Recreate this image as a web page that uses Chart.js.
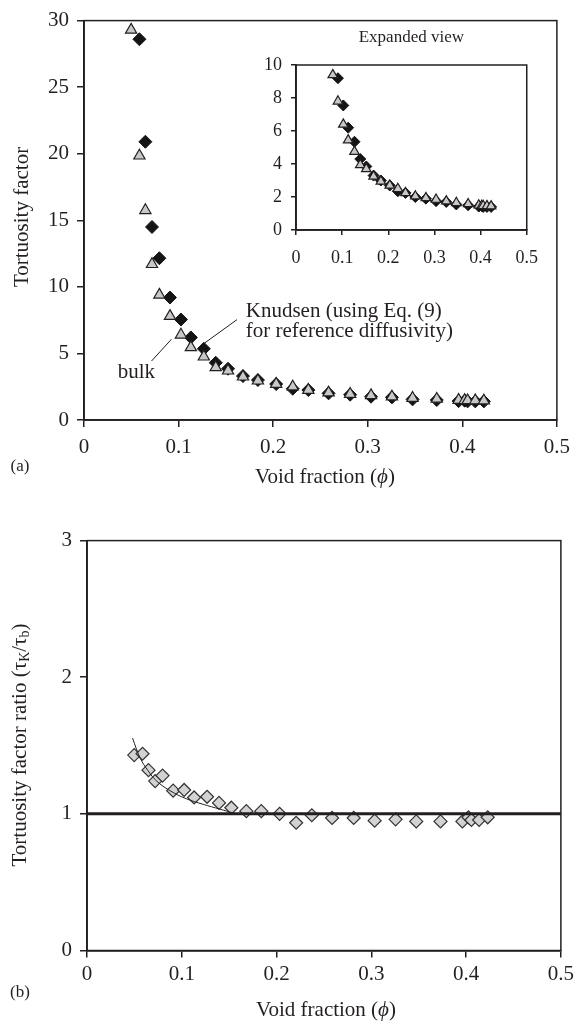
<!DOCTYPE html>
<html>
<head>
<meta charset="utf-8">
<script src="https://cdn.jsdelivr.net/npm/chart.js@4.4.0/dist/chart.umd.min.js"></script>
<style>
  html, body { margin: 0; padding: 0; background: #fff; }
  body { width: 578px; height: 1026px; position: relative; overflow: hidden; }
  .panel { position: absolute; }
</style>
</head>
<body>
<div class="panel" style="left:0;top:0"><canvas id="mainChart" width="578" height="500"></canvas></div>
<div class="panel" style="left:240px;top:20px"><canvas id="insetChart" width="310" height="265"></canvas></div>
<div class="panel" style="left:0;top:520px"><canvas id="ratioChart" width="578" height="506"></canvas></div>

<script>
// ------------ data ------------
const voidFraction = [0.0498, 0.0586, 0.0649, 0.0719, 0.0797, 0.0909, 0.1025, 0.1130, 0.1267, 0.1393,
                      0.1523, 0.1681, 0.1839, 0.2032, 0.2207, 0.2372, 0.2586, 0.2814, 0.3035, 0.3256,
                      0.3474, 0.3730, 0.3961, 0.4025, 0.4056, 0.4137, 0.4228];
const tauBulk = [29.3, 19.85, 15.75, 11.7, 9.4, 7.8, 6.4, 5.45, 4.75, 3.95,
                 3.7, 3.25, 2.95, 2.7, 2.5, 2.25, 2.05, 1.95, 1.85, 1.75,
                 1.65, 1.58, 1.5, 1.48, 1.47, 1.46, 1.45];
// first Knudsen point lies above the 30 limit, so it is not shown
const tauKnudsen = [null, 28.6, 20.9, 14.5, 12.15, 9.2, 7.55, 6.2, 5.35, 4.3,
                    3.85, 3.3, 3.0, 2.7, 2.35, 2.25, 2.0, 1.9, 1.75, 1.7,
                    1.55, 1.5, 1.42, 1.45, 1.4, 1.4, 1.4];
const tauRatio = [1.43, 1.44, 1.32, 1.24, 1.28, 1.17, 1.175, 1.12, 1.125, 1.08,
                  1.045, 1.02, 1.02, 1.0, 0.935, 0.99, 0.97, 0.97, 0.95, 0.96,
                  0.945, 0.945, 0.945, 0.975, 0.955, 0.955, 0.975];
// trend curve in panel (b)
const fitX = [0.048, 0.056, 0.0645, 0.0735, 0.0875, 0.105, 0.1225, 0.14, 0.155];
const fitY = [1.555, 1.41, 1.315, 1.24, 1.17, 1.11, 1.07, 1.035, 1.005];
// reference line at ratio = 1
const unityX = [0, 0.5];
const unityY = [1, 1];

const xTicks = [0, 0.5, 0.1];      // min, max, step
const mainYTicks = [0, 30, 5];
const insetYTicks = [0, 10, 2];
const ratioYTicks = [0, 3, 1];

// ------------ helpers ------------
const SERIF = '"Liberation Serif", "Times New Roman", serif';
const INK = '#231f20';

function pts(xs, ys) {
  return xs.map((x, i) => ({ x: x, y: ys[i] }));
}

function font(size, style) {
  return (style || '') + ' ' + size + 'px ' + SERIF;
}

// draws a line of text made of runs (for italics and subscripts)
function richText(ctx, runs, x, y, rot, align) {
  ctx.save();
  ctx.translate(x, y);
  if (rot) ctx.rotate(rot);
  ctx.textBaseline = 'middle';
  ctx.textAlign = 'left';
  ctx.fillStyle = INK;
  let w = 0;
  runs.forEach(r => { ctx.font = r.font; w += ctx.measureText(r.t).width; });
  let cx = align === 'left' ? 0 : -w / 2;
  runs.forEach(r => {
    ctx.font = r.font;
    ctx.fillText(r.t, cx, r.dy || 0);
    cx += ctx.measureText(r.t).width;
  });
  ctx.restore();
}

function axis(t, size, pad, tick, fitSize, isX) {
  return {
    type: 'linear',
    min: t[0],
    max: t[1],
    ticks: {
      stepSize: t[2],
      autoSkip: false,
      maxRotation: 0,
      padding: pad,
      color: INK,
      font: { family: SERIF, size: size }
    },
    grid: { drawOnChartArea: false, tickLength: tick, color: INK, lineWidth: 1.5 },
    border: { color: INK, width: 1.8 },
    afterFit: isX ? (s => { s.height = fitSize; }) : (s => { s.width = fitSize; })
  };
}

// box around the plot area
const frame = {
  id: 'frame',
  beforeDatasetsDraw(chart) {
    const a = chart.chartArea;
    const ctx = chart.ctx;
    ctx.save();
    ctx.strokeStyle = INK;
    ctx.lineWidth = 1.5;
    ctx.strokeRect(a.left, a.top, a.right - a.left, a.bottom - a.top);
    ctx.restore();
  }
};

const baseOptions = {
  responsive: false,
  animation: false,
  events: [],
  plugins: { legend: { display: false }, tooltip: { enabled: false } }
};

// ------------ (a) main panel ------------
const mainNotes = {
  id: 'mainNotes',
  afterDraw(chart) {
    const ctx = chart.ctx;
    const sx = chart.scales.x, sy = chart.scales.y;
    const px = v => sx.getPixelForValue(v);
    const py = v => sy.getPixelForValue(v);

    richText(ctx, [{ t: 'Tortuosity factor', font: font(21) }], 22, 217, -Math.PI / 2);
    richText(ctx, [
      { t: 'Void fraction (', font: font(21) },
      { t: '\u03D5', font: font(21, 'italic') },
      { t: ')', font: font(21) }
    ], 325, 477);
    richText(ctx, [{ t: '(a)', font: font(17) }], 20, 467);

    // annotations with leader lines
    ctx.save();
    ctx.strokeStyle = INK;
    ctx.lineWidth = 1;
    ctx.beginPath();
    ctx.moveTo(px(0.0714), py(4.43));
    ctx.lineTo(px(0.0924), py(6.06));
    ctx.moveTo(px(0.1618), py(7.54));
    ctx.lineTo(px(0.1271), py(5.76));
    ctx.stroke();
    ctx.restore();

    richText(ctx, [{ t: 'bulk', font: font(21) }], px(0.0357), py(3.55), 0, 'left');
    richText(ctx, [{ t: 'Knudsen (using Eq. (9)', font: font(21) }], px(0.171), py(8.13), 0, 'left');
    richText(ctx, [{ t: 'for reference diffusivity)', font: font(21) }], px(0.171), py(6.65), 0, 'left');
  }
};

function tauDatasets(r) {
  return [
    {
      label: 'bulk',
      data: pts(voidFraction, tauBulk),
      pointStyle: 'triangle',
      pointRadius: r,
      backgroundColor: '#c8c8c8',
      borderColor: INK,
      borderWidth: 1.2,
      clip: 8,
      order: 0
    },
    {
      label: 'Knudsen',
      data: pts(voidFraction, tauKnudsen),
      pointStyle: 'rectRot',
      pointRadius: r,
      backgroundColor: '#141414',
      borderColor: '#141414',
      borderWidth: 1,
      clip: 8,
      order: 1
    }
  ];
}

new Chart(document.getElementById('mainChart'), {
  type: 'scatter',
  data: { datasets: tauDatasets(6.5) },
  options: Object.assign({}, baseOptions, {
    layout: { padding: { left: 0, right: 18, top: 14, bottom: 0 } },
    scales: {
      x: axis(xTicks, 21, 8, 7, 80, true),
      y: axis(mainYTicks, 21, 8, 7, 84, false)
    }
  }),
  plugins: [frame, mainNotes]
});

// ------------ inset: expanded view ------------
const insetNotes = {
  id: 'insetNotes',
  afterDraw(chart) {
    const a = chart.chartArea;
    richText(chart.ctx, [{ t: 'Expanded view', font: font(17) }], (a.left + a.right) / 2, 18);
  }
};

new Chart(document.getElementById('insetChart'), {
  type: 'scatter',
  data: { datasets: tauDatasets(5.5) },
  options: Object.assign({}, baseOptions, {
    layout: { padding: { left: 0, right: 18, top: 45, bottom: 0 } },
    scales: {
      x: axis(xTicks, 18, 12, 5, 55, true),
      y: axis(insetYTicks, 18, 9, 5, 56, false)
    }
  }),
  plugins: [frame, insetNotes]
});

// ------------ (b) ratio panel ------------
const ratioNotes = {
  id: 'ratioNotes',
  afterDraw(chart) {
    const ctx = chart.ctx;
    richText(ctx, [
      { t: 'Tortuosity factor ratio (', font: font(21) },
      { t: '\u03C4', font: font(21) },
      { t: 'K', font: font(14), dy: 5 },
      { t: '/', font: font(21) },
      { t: '\u03C4', font: font(21) },
      { t: 'b', font: font(14), dy: 5 },
      { t: ')', font: font(21) }
    ], 20, 225, -Math.PI / 2);
    richText(ctx, [
      { t: 'Void fraction (', font: font(21) },
      { t: '\u03D5', font: font(21, 'italic') },
      { t: ')', font: font(21) }
    ], 326, 490);
    richText(ctx, [{ t: '(b)', font: font(17) }], 20, 473);
  }
};

new Chart(document.getElementById('ratioChart'), {
  type: 'scatter',
  data: {
    datasets: [
      {
        label: 'unity',
        data: pts(unityX, unityY),
        showLine: true,
        pointRadius: 0,
        borderColor: INK,
        borderWidth: 3,
        order: 0
      },
      {
        label: 'trend',
        data: pts(fitX, fitY),
        showLine: true,
        tension: 0.4,
        pointRadius: 0,
        borderColor: INK,
        borderWidth: 1,
        order: 1
      },
      {
        label: 'ratio',
        data: pts(voidFraction, tauRatio),
        pointStyle: 'rectRot',
        pointRadius: 6.5,
        backgroundColor: '#d2d2d2',
        borderColor: '#333',
        borderWidth: 1.2,
        order: 2
      }
    ]
  },
  options: Object.assign({}, baseOptions, {
    layout: { padding: { left: 0, right: 16, top: 19, bottom: 0 } },
    scales: {
      x: axis(xTicks, 21, 4, 7, 75.5, true),
      y: axis(ratioYTicks, 21, 8, 7, 87, false)
    }
  }),
  plugins: [frame, ratioNotes]
});
</script>
</body>
</html>
